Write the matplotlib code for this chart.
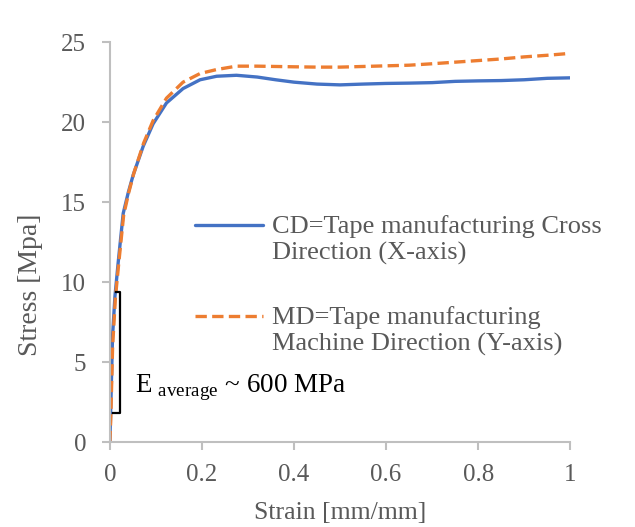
#!/usr/bin/env python3
# stress-strain curves for tape, CD vs MD

import matplotlib
matplotlib.use("Agg")
import matplotlib.pyplot as plt

# CD = cross direction (blue, solid)
cd_strain = [0, 0.0022, 0.0058, 0.011, 0.018, 0.029, 0.04, 0.0507, 0.0725, 0.094, 0.123,
             0.159, 0.196, 0.232, 0.275, 0.32, 0.36, 0.4, 0.45, 0.5, 0.55, 0.6, 0.65,
             0.7, 0.75, 0.8, 0.85, 0.9, 0.95, 1.0]
cd_stress = [0, 2.4, 6.6, 9.1, 11.2, 14.3, 15.6, 16.7, 18.5, 19.9, 21.2,
             22.1, 22.65, 22.87, 22.93, 22.82, 22.65, 22.5, 22.38, 22.33, 22.38, 22.42, 22.44,
             22.47, 22.55, 22.58, 22.6, 22.65, 22.74, 22.77]

# MD = machine direction (orange, dashed)
md_strain = [0, 0.002, 0.006, 0.012, 0.019, 0.03, 0.041, 0.052, 0.0735, 0.094, 0.123,
             0.159, 0.196, 0.232, 0.275, 0.32, 0.36, 0.4, 0.45, 0.5, 0.55, 0.6, 0.65,
             0.7, 0.75, 0.8, 0.85, 0.9, 0.95, 1.0]
md_stress = [0, 1.5, 6.0, 9.0, 11.1, 14.2, 15.6, 16.8, 18.7, 20.1, 21.5,
             22.5, 23.04, 23.29, 23.5, 23.5, 23.48, 23.46, 23.44, 23.44, 23.48, 23.52, 23.56,
             23.65, 23.75, 23.85, 23.95, 24.08, 24.18, 24.3]

labels = ["CD=Tape manufacturing Cross\nDirection (X-axis)",
          "MD=Tape manufacturing\nMachine Direction (Y-axis)"]

x_ticks = [0, 0.2, 0.4, 0.6, 0.8, 1]
x_tick_labels = ["0", "0.2", "0.4", "0.6", "0.8", "1"]
y_ticks = [0, 5, 10, 15, 20, 25]

# modulus bracket (strain, stress)
bracket_x = [0.006, 0.022, 0.022, 0.013]
bracket_y = [1.85, 1.85, 9.4, 9.4]

plt.rcParams["font.family"] = ["Liberation Serif", "DejaVu Serif"]
plt.rcParams["mathtext.fontset"] = "custom"
plt.rcParams["mathtext.rm"] = "Liberation Serif"

grey = "#595959"
spine_c = "#BFBFBF"

fig = plt.figure(figsize=(6.35, 5.27), dpi=100)
ax = fig.add_axes([0.173, 0.161, 0.725, 0.759])

ax.plot(cd_strain, cd_stress, color="#4472C4", lw=2.4, label=labels[0],
        solid_capstyle="round", solid_joinstyle="round")
ax.plot(md_strain, md_stress, color="#ED7D31", lw=2.4, ls=(0, (3.4, 1.6)), label=labels[1])

ax.plot(bracket_x, bracket_y, color="black", lw=1.6)
ax.text(0.054, 3.1, r"E$_{\mathrm{\ average}}$ ~ 600 MPa", fontsize=19.5, color="black",
        va="baseline")

ax.set_xlim(0, 1)
ax.set_ylim(0, 25)
ax.set_xticks(x_ticks)
ax.set_xticklabels(x_tick_labels)
ax.set_yticks(y_ticks)

for s in ["top", "right"]:
    ax.spines[s].set_visible(False)
for s in ["left", "bottom"]:
    ax.spines[s].set_color(spine_c)
    ax.spines[s].set_linewidth(1.5)
ax.tick_params(axis="both", colors=spine_c, labelcolor=grey, labelsize=18,
               length=6, width=1.5, direction="out")
ax.tick_params(axis="x", pad=10)
ax.tick_params(axis="y", pad=11)

ax.set_xlabel("Strain [mm/mm]", fontsize=18.5, color=grey)
ax.set_ylabel("Stress [Mpa]", fontsize=20, color=grey)
ax.xaxis.set_label_coords(0.5, -0.15)
ax.yaxis.set_label_coords(-0.146, 0.394)

fs_leg = 19
leg = ax.legend(loc="upper left", bbox_to_anchor=(0.185, 0.567), frameon=False,
                fontsize=fs_leg, handlelength=2.58, handletextpad=0.34,
                labelspacing=1.57, borderpad=0, borderaxespad=0)
for t in leg.get_texts():
    t.set_color(grey)
# put the legend line next to the first text line, not between the two
for ln in leg.get_lines():
    ln.set_ydata([y + 0.55 * fs_leg for y in ln.get_ydata()])

print("Writing plot to out.png")
fig.savefig("out.png", dpi=100)
plt.close()
